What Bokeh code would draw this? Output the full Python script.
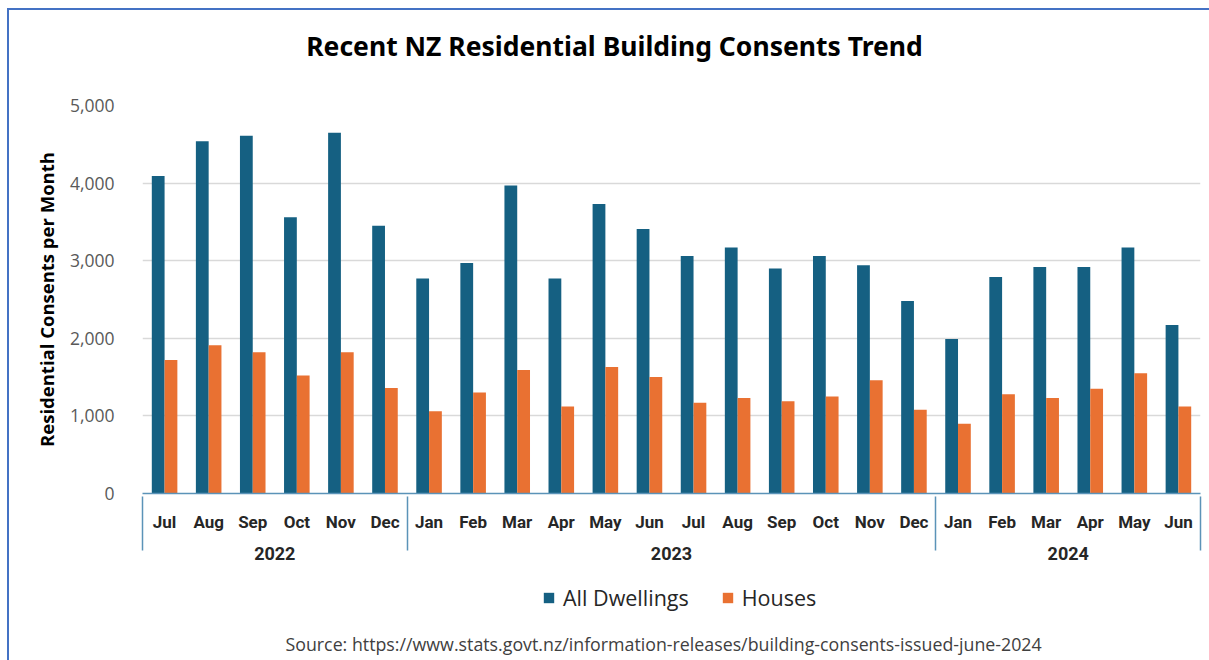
from bokeh.plotting import figure
from bokeh.layouts import column
from bokeh.models import (FactorRange, Range1d, FixedTicker, NumeralTickFormatter,
                          Legend, ColumnDataSource, Label)
from bokeh.transform import dodge
from bokeh.embed import file_html
from bokeh.resources import INLINE

# ---- data ----
years = ["2022"] * 6 + ["2023"] * 12 + ["2024"] * 6
months = ["Jul", "Aug", "Sep", "Oct", "Nov", "Dec",
          "Jan", "Feb", "Mar", "Apr", "May", "Jun", "Jul", "Aug", "Sep", "Oct", "Nov", "Dec",
          "Jan", "Feb", "Mar", "Apr", "May", "Jun"]
all_dwellings = [4090, 4540, 4610, 3560, 4650, 3450,
                 2770, 2970, 3970, 2770, 3730, 3410, 3060, 3170, 2900, 3060, 2940, 2480,
                 1990, 2790, 2920, 2920, 3170, 2170]
houses = [1720, 1910, 1820, 1520, 1820, 1360,
          1060, 1300, 1590, 1120, 1630, 1500, 1170, 1230, 1190, 1250, 1460, 1080,
          900, 1280, 1230, 1350, 1550, 1120]
y_ticks = [0, 1000, 2000, 3000, 4000, 5000]
series_names = ["All Dwellings", "Houses"]
colors = ["#156082", "#E97132"]

title_text = "Recent NZ Residential Building Consents Trend"
y_label = "Residential Consents per Month"
source_text = "Source: https://www.stats.govt.nz/information-releases/building-consents-issued-june-2024"

factors = list(zip(years, months))
src = ColumnDataSource(dict(x=factors, all=all_dwellings, houses=houses))

sep_color = "#5B93B8"
W = 1200

# empty edge groups just outside the visible range, so that the axis also
# draws its group separators at both outer edges
range_factors = [("", "")] + factors + [(" ", " ")]
xr = FactorRange(*range_factors, group_padding=0, factor_padding=0,
                 range_padding=-0.999, range_padding_units="absolute")

# ---------- title strip ----------
t = figure(width=W, height=60, x_range=Range1d(0, 1), y_range=Range1d(0, 1),
           x_axis_type=None, y_axis_type=None, output_backend="svg", toolbar_location=None,
           min_border=0, border_fill_color="white", background_fill_color="white")
t.outline_line_color = None
t.grid.visible = False
t.add_layout(Label(x=472, y=25, x_units="screen", y_units="screen", text=title_text,
                   text_align="center", text_baseline="middle", text_font="Noto Sans",
                   text_font_style="bold", text_font_size="26.5px", text_color="#000000"))

# ---------- main chart ----------
p = figure(x_range=xr, y_range=Range1d(0, 5000),
           frame_width=1058, frame_height=388, output_backend="svg", toolbar_location=None,
           min_border_left=133, min_border_right=9, min_border_top=35, min_border_bottom=81,
           background_fill_color="white", border_fill_color="white")
p.outline_line_color = None

bw = 0.29
r1 = p.vbar(x=dodge("x", -bw / 2, range=p.x_range), top="all", width=bw, source=src,
            fill_color=colors[0], line_color=None)
r2 = p.vbar(x=dodge("x", bw / 2, range=p.x_range), top="houses", width=bw, source=src,
            fill_color=colors[1], line_color=None)

p.yaxis.ticker = FixedTicker(ticks=y_ticks)
p.yaxis.formatter = NumeralTickFormatter(format="0,0")
p.yaxis.axis_line_color = None
p.yaxis.major_tick_line_color = None
p.yaxis.minor_tick_line_color = None
p.yaxis.major_label_standoff = 22
p.yaxis.major_label_text_font = "Open Sans"
p.yaxis.major_label_text_font_size = "17.5px"
p.yaxis.major_label_text_color = "#595959"
p.yaxis.axis_label = y_label
p.yaxis.axis_label_text_font = "Open Sans"
p.yaxis.axis_label_text_font_style = "bold"
p.yaxis.axis_label_text_font_size = "18.5px"
p.yaxis.axis_label_text_color = "#000000"
p.yaxis.axis_label_standoff = 8
p.ygrid.grid_line_color = "#D9D9D9"
p.ygrid.grid_line_width = 1.5
p.xgrid.grid_line_color = None

xa = p.xaxis[0]
xa.axis_line_color = sep_color
xa.axis_line_width = 1.5
xa.major_tick_line_color = None
xa.minor_tick_line_color = None
xa.major_label_standoff = 12
xa.major_label_text_font = "Roboto"
xa.major_label_text_font_style = "bold"
xa.major_label_text_font_size = "17px"
xa.major_label_text_color = "#262626"
xa.group_text_font = "Roboto"
xa.group_text_font_style = "bold"
xa.group_text_font_size = "18px"
xa.group_text_color = "#262626"
xa.separator_line_color = sep_color
xa.separator_line_width = 1.5

# ---------- legend + source strip ----------
b = figure(width=W, height=86, x_range=Range1d(0, 1), y_range=Range1d(0, 1),
           x_axis_type=None, y_axis_type=None, output_backend="svg", toolbar_location=None,
           min_border=0, border_fill_color="white", background_fill_color="white")
b.outline_line_color = None
b.grid.visible = False
# legend swatches (kept outside the visible range of this strip)
k1 = b.vbar(x=[-1], top=[0], width=0.1, fill_color=colors[0], line_color=None)
k2 = b.vbar(x=[-1], top=[0], width=0.1, fill_color=colors[1], line_color=None)
legend = Legend(items=[(series_names[0], [k1]), (series_names[1], [k2])],
                orientation="horizontal", location=(400, 48),
                label_text_font="Open Sans", label_text_font_size="21.5px",
                label_text_color="#262626", glyph_width=13, glyph_height=13,
                label_standoff=8, spacing=32, border_line_color=None,
                background_fill_alpha=0, margin=0, padding=0)
b.add_layout(legend)
b.add_layout(Label(x=143, y=17, x_units="screen", y_units="screen", text=source_text,
                   text_align="left", text_baseline="middle", text_font="Open Sans",
                   text_font_size="17.8px", text_color="#404040"))

layout = column(t, p, b, spacing=0,
                styles={"margin-left": "7px", "margin-top": "8px",
                        "border-left": "2px solid #4472C4", "border-top": "2px solid #4472C4"})

open("out.html", "w").write(file_html(layout, INLINE))
